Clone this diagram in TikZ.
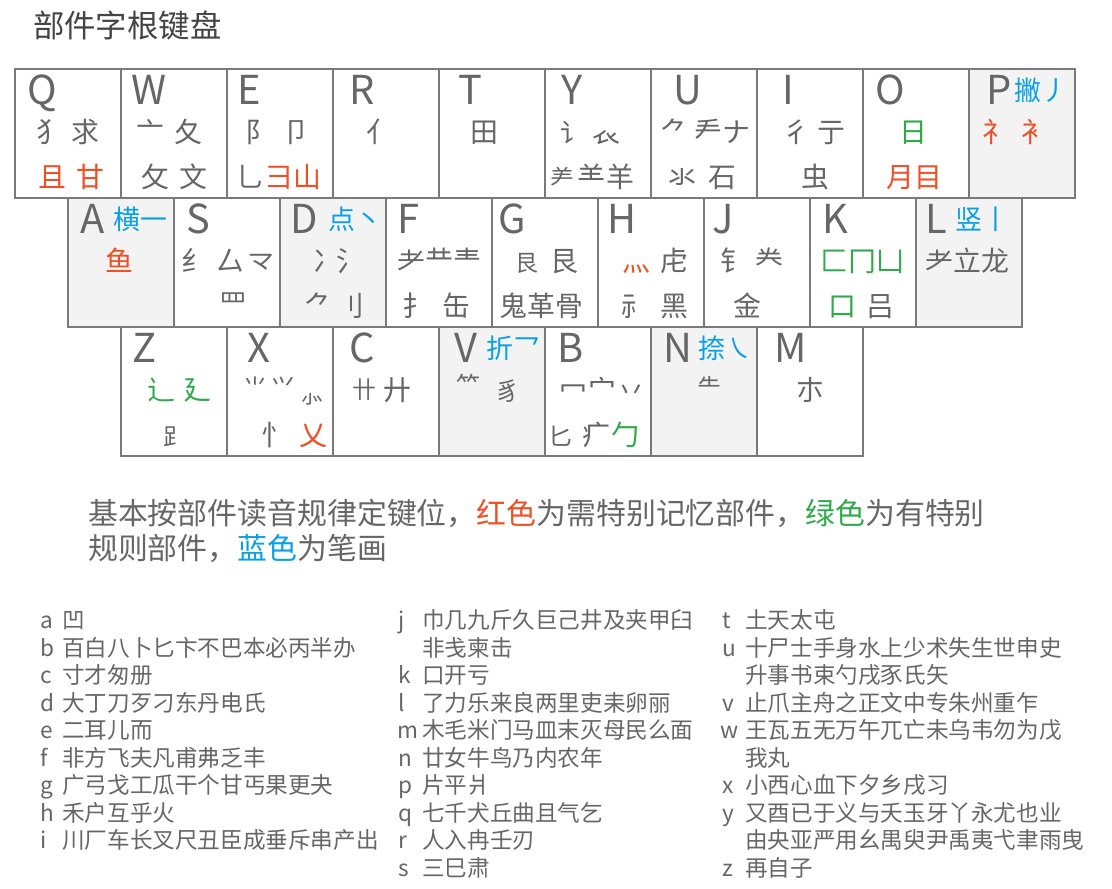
\documentclass[tikz,border=0pt]{standalone}
\usepackage{fontspec}
\setmainfont{Noto Sans CJK SC}
\definecolor{txt}{HTML}{666666}
\definecolor{ttl}{HTML}{444444}
\definecolor{kline}{HTML}{7A7A7A}
\definecolor{kshade}{HTML}{F3F3F3}
\definecolor{cred}{HTML}{F04E23}
\definecolor{cgreen}{HTML}{2FAA4A}
\definecolor{cblue}{HTML}{0AA0E6}
\newcommand\fs[1]{\fontsize{#1}{#1}\selectfont}
\newcommand\kbkey[6]{%
  \node[keybox, fill=#4] (k#1) at ({#2+53},{#3+64.5}) {};
  \node[klet] (k#1let) at (#6,{#3+35}) {#5};}
\tikzset{
  keybox/.style={draw=kline, line width=1.2bp, minimum width=106bp, minimum height=129bp, inner sep=0pt, outer sep=0pt},
  klet/.style={anchor=base, inner sep=0pt, text=txt, font=\fs{40}},
  krad/.style={anchor=base, inner sep=0pt, text=txt, font=\fs{28}},
  ksmall/.style={anchor=base, inner sep=0pt, text=txt, font=\fs{24}},
  klab/.style={anchor=base, inner sep=0pt, text=cblue, font=\fs{27}},
  lst/.style={anchor=base west, inner sep=0pt, text=txt, font=\fs{22.7}},
  desc/.style={anchor=base west, inner sep=0pt, text=txt, font=\fs{30}},
}
\begin{document}
\begin{tikzpicture}[x=1bp,y=-1bp]
\useasboundingbox (0,0) rectangle (1112,889);
\node[anchor=base west, inner sep=0pt, text=ttl, font=\fs{31.5}] (title) at (33,37) {部件字根键盘};
% ---- row 1 ----
\kbkey{Q}{15}{69}{white}{Q}{42.5}
\kbkey{W}{121}{69}{white}{W}{148.5}
\kbkey{E}{227}{69}{white}{E}{249}
\kbkey{R}{333}{69}{white}{R}{362.5}
\kbkey{T}{439}{69}{white}{T}{470}
\kbkey{Y}{545}{69}{white}{Y}{572.5}
\kbkey{U}{651}{69}{white}{U}{688}
\kbkey{I}{757}{69}{white}{I}{788.5}
\kbkey{O}{863}{69}{white}{O}{890}
\kbkey{P}{969}{69}{kshade}{P}{999.5}
% ---- row 2 ----
\kbkey{A}{68}{198}{kshade}{A}{93}
\kbkey{S}{174}{198}{white}{S}{198}
\kbkey{D}{280}{198}{kshade}{D}{304}
\kbkey{F}{386}{198}{white}{F}{408}
\kbkey{G}{492}{198}{white}{G}{512}
\kbkey{H}{598}{198}{white}{H}{621.5}
\kbkey{J}{704}{198}{white}{J}{723}
\kbkey{K}{810}{198}{white}{K}{835}
\kbkey{L}{916}{198}{kshade}{L}{936.5}
% ---- row 3 ----
\kbkey{Z}{121}{327}{white}{Z}{145}
\kbkey{X}{227}{327}{white}{X}{258.5}
\kbkey{C}{333}{327}{white}{C}{362}
\kbkey{V}{439}{327}{kshade}{V}{466}
\kbkey{B}{545}{327}{white}{B}{571}
\kbkey{N}{651}{327}{kshade}{N}{678}
\kbkey{M}{757}{327}{white}{M}{791}
% ---- row 1 contents ----
\node[krad] (q1) at (50,142) {犭};
\node[krad] (q2) at (85.5,142) {求};
\node[krad,text=cred] (q3) at (52.5,187) {且};
\node[krad,text=cred] (q4) at (90.5,187) {甘};
\node[krad] (w1) at (150.5,142) {亠};
\node[krad] (w2) at (188.5,142) {夂};
\node[krad] (w3) at (155.5,187) {攵};
\node[krad] (w4) at (193.5,187) {文};
\node[krad] (e1) at (259,142) {阝};
\node[krad] (e2) at (296,142) {卩};
\node[krad] (e3) at (250,187) {乚};
\node[krad,text=cred] (e4) at (293,187) {彐山};
\node[krad] (r1) at (380,142) {亻};
\node[krad] (t1) at (484,142) {田};
\node[krad,font=\fs{26}] (y1) at (573,142) {讠};
\node[krad] (y2) at (606,142) {𧘇};
\node[krad,font=\fs{24}] (y3) at (562,187) {⺶};
\node[krad] (y4) at (591.5,187) {⺷};
\node[krad] (y5) at (620,187) {羊};
\node[krad] (u1) at (674,142) {⺈};
\node[krad] (u2) at (722.5,142) {龵ナ};
\node[krad] (u3) at (682.5,187) {氺};
\node[krad] (u4) at (722.5,187) {石};
\node[krad] (i1) at (796,142) {彳};
\node[krad] (i2) at (831,142) {亍};
\node[krad] (i3) at (815.5,187) {虫};
\node[krad,text=cgreen] (o1) at (913.5,142) {日};
\node[krad,text=cred] (o2) at (914.5,187) {月目};
\node[klab] (p0) at (1041.5,100) {撇丿};
\node[krad,text=cred] (p1) at (996,142) {礻};
\node[krad,text=cred] (p2) at (1035,142) {衤};
% ---- row 2 contents ----
\node[klab] (a0) at (140,229) {横一};
\node[krad,text=cred] (a1) at (119.5,271) {鱼};
\node[krad] (s1) at (195.5,271) {纟};
\node[krad] (s2) at (230.5,271) {厶};
\node[krad] (s3) at (261,271) {龴};
\node[krad] (s4) at (233.5,314) {罒};
\node[klab] (d0) at (355,229) {点丶};
\node[krad] (d1) at (327,271) {冫};
\node[krad] (d2) at (350,271) {氵};
\node[krad] (d3) at (318,316) {⺈};
\node[krad] (d4) at (350,316) {刂};
\node[krad] (f1) at (439.5,271) {耂龷龶};
\node[krad] (f2) at (416,316) {扌};
\node[krad] (f3) at (456.5,316) {缶};
\node[krad,font=\fs{23}] (g1) at (527,271) {艮};
\node[krad] (g2) at (564.5,271) {艮};
\node[krad] (g3) at (541.5,316) {鬼革骨};
\node[krad,text=cred] (h1) at (636,271) {灬};
\node[krad] (h2) at (674.5,271) {虍};
\node[krad] (h3) at (635.5,316) {⺬};
\node[krad] (h4) at (674.5,316) {黑};
\node[krad] (j1) at (734,271) {钅};
\node[krad] (j2) at (769,271) {龹};
\node[krad] (j3) at (747.5,316) {金};
\node[krad,text=cgreen] (k1) at (862.5,271) {匚冂凵};
\node[krad,text=cgreen] (k2) at (842.5,316) {口};
\node[krad] (k3) at (880,316) {吕};
\node[klab] (l0) at (982,229) {竖丨};
\node[krad] (l1) at (967.5,271) {⺹立龙};
% ---- row 3 contents ----
\node[krad,text=cgreen] (z1) at (161,400) {辶};
\node[krad,text=cgreen] (z2) at (197.5,400) {廴};
\node[krad,font=\fs{24}] (z3) at (175,445) {⻊};
\node[krad,font=\fs{24}] (x1) at (255,396) {⺌};
\node[krad,font=\fs{24}] (x2) at (283,396) {⺍};
\node[ksmall] (x3) at (312,403) {⺗};
\node[krad] (x4) at (275.5,445) {忄};
\node[krad,text=cred] (x5) at (313,445) {乂};
\node[krad,font=\fs{24}] (c1) at (364,398) {卄};
\node[krad] (c2) at (397,400) {廾};
\node[klab] (v0) at (513,358) {折乛};
\node[ksmall] (v1) at (468,394) {⺮};
\node[krad,font=\fs{25}] (v2) at (508,400) {豸};
\node[krad] (b1) at (573.5,400) {冖};
\node[krad] (b2) at (602.5,400) {宀};
\node[krad] (b3) at (631.5,400) {丷};
\node[krad,font=\fs{24}] (b4) at (560,445) {匕};
\node[krad] (b5) at (596.5,445) {疒};
\node[krad,text=cgreen] (b6) at (625,445) {勹};
\node[klab] (n0) at (725,358) {捺㇏};
\node[ksmall] (n1) at (709,396) {⺧};
\node[krad] (m1) at (810.5,400) {朩};
% ---- description ----
\node[desc] (desc1) at (88,524) {基本按部件读音规律定键位，\textcolor{cred}{红色}为需特别记忆部件，\textcolor{cgreen}{绿色}为有特别};
\node[desc] (desc2) at (88,559) {规则部件，\textcolor{cblue}{蓝色}为笔画};
% ---- list column 1 ----
\node[lst] (la) at (40,628.6) {a};   \node[lst] (ta) at (62,628.6) {凹};
\node[lst] (lb) at (40,656.1) {b};   \node[lst] (tb) at (62,656.1) {百白八卜匕卞不巴本必丙半办};
\node[lst] (lc) at (40,683.6) {c};   \node[lst] (tc) at (62,683.6) {寸才匆册};
\node[lst] (ld) at (40,711.1) {d};   \node[lst] (td) at (62,711.1) {大丁刀歹刁东丹电氏};
\node[lst] (le) at (40,738.6) {e};   \node[lst] (te) at (62,738.6) {二耳儿而};
\node[lst] (lf) at (40,766.1) {f};   \node[lst] (tf) at (62,766.1) {非方飞夫凡甫弗乏丰};
\node[lst] (lg) at (40,793.6) {g};   \node[lst] (tg) at (62,793.6) {广弓戈工瓜干个甘丐果更夬};
\node[lst] (lh) at (40,821.1) {h};   \node[lst] (th) at (62,821.1) {禾户互乎火};
\node[lst] (li) at (40,848.6) {i};   \node[lst] (ti) at (62,848.6) {川厂车长叉尺丑臣成垂斥串产出};
% ---- list column 2 ----
\node[lst] (lj) at (398,628.6) {j};  \node[lst] (tj) at (422,628.6) {巾几九斤久巨己井及夹甲臼};
                                     \node[lst] (tj2) at (422,656.1) {非戋柬击};
\node[lst] (lk) at (398,683.6) {k};  \node[lst] (tk) at (422,683.6) {口开亏};
\node[lst] (ll) at (398,711.1) {l};  \node[lst] (tl) at (422,711.1) {了力乐来良两里吏耒卵丽};
\node[lst] (lm) at (397,738.6) {m};  \node[lst] (tm) at (422,738.6) {木毛米门马皿末灭母民么面};
\node[lst] (ln) at (398,766.1) {n};  \node[lst] (tn) at (422,766.1) {廿女牛鸟乃内农年};
\node[lst] (lp) at (398,793.6) {p};  \node[lst] (tp) at (422,793.6) {片平爿};
\node[lst] (lq) at (398,821.1) {q};  \node[lst] (tq) at (422,821.1) {七千犬丘曲且气乞};
\node[lst] (lr) at (398,848.6) {r};  \node[lst] (tr) at (422,848.6) {人入冉壬刃};
\node[lst] (ls) at (398,876.1) {s};  \node[lst] (ts) at (422,876.1) {三巳肃};
% ---- list column 3 ----
\node[lst] (lt) at (722,628.6) {t};  \node[lst] (tt) at (745,628.6) {土天太屯};
\node[lst] (lu) at (722,656.1) {u};  \node[lst] (tu) at (745,656.1) {十尸士手身水上少术失生世申史};
                                     \node[lst] (tu2) at (745,683.6) {升事书束勺戌豕氏矢};
\node[lst] (lv) at (722,711.1) {v};  \node[lst] (tv) at (745,711.1) {止爪主舟之正文中专朱州重乍};
\node[lst] (lw) at (720,738.6) {w};  \node[lst] (tw) at (745,738.6) {王瓦五无万午兀亡未乌韦勿为戊};
                                     \node[lst] (tw2) at (745,766.1) {我丸};
\node[lst] (lx) at (722,793.6) {x};  \node[lst] (tx) at (745,793.6) {小西心血下夕乡戌习};
\node[lst] (ly) at (722,821.1) {y};  \node[lst] (ty) at (745,821.1) {又酉已于义与夭玉牙丫永尤也业};
                                     \node[lst] (ty2) at (745,848.6) {由央亚严用幺禺臾尹禹夷弋聿雨曳};
\node[lst] (lz) at (722,876.1) {z};  \node[lst] (tz) at (745,876.1) {再自子};
\end{tikzpicture}
\end{document}
